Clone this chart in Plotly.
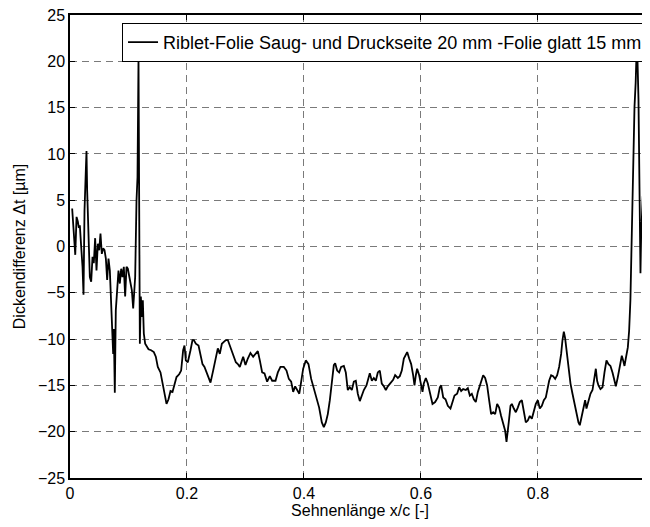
import plotly.graph_objects as go

# x/c positions and thickness differences (µm)
x_vals = [
    0.0037, 0.0054, 0.0090, 0.0112, 0.0134, 0.0151, 0.0168, 0.0191, 0.0214, 0.0231,
    0.0248, 0.0271, 0.0282, 0.0293, 0.0316, 0.0339, 0.0362, 0.0385, 0.0407, 0.0430,
    0.0453, 0.0476, 0.0499, 0.0521, 0.0544, 0.0567, 0.0590, 0.0613, 0.0635, 0.0658,
    0.0681, 0.0704, 0.0721, 0.0738, 0.0749, 0.0766, 0.0783, 0.0806, 0.0829, 0.0852,
    0.0875, 0.0897, 0.0920, 0.0943, 0.0966, 0.0989, 0.1011, 0.1034, 0.1057, 0.1080,
    0.1097, 0.1114, 0.1137, 0.1154, 0.1171, 0.1182, 0.1194, 0.1211, 0.1228, 0.1245,
    0.1262, 0.1285, 0.1308, 0.1342, 0.1387, 0.1433, 0.1467, 0.1501, 0.1547, 0.1581,
    0.1615, 0.1650, 0.1684, 0.1718, 0.1752, 0.1786, 0.1821, 0.1866, 0.1900, 0.1934,
    0.1957, 0.1980, 0.2014, 0.2060, 0.2094, 0.2117, 0.2151, 0.2197, 0.2231, 0.2265,
    0.2299, 0.2345, 0.2402, 0.2447, 0.2493, 0.2527, 0.2561, 0.2596, 0.2630, 0.2664,
    0.2698, 0.2732, 0.2766, 0.2801, 0.2835, 0.2869, 0.2903,
    0.2960, 0.3000, 0.3040, 0.3085, 0.3131, 0.3171, 0.3211, 0.3245, 0.3285, 0.3325,
    0.3370, 0.3416, 0.3456, 0.3513, 0.3553, 0.3598, 0.3655, 0.3701, 0.3741, 0.3781,
    0.3815, 0.3849, 0.3883, 0.3920, 0.3952, 0.3986, 0.4031, 0.4077, 0.4123, 0.4168,
    0.4214, 0.4259, 0.4305, 0.4339, 0.4373, 0.4407, 0.4442, 0.4476, 0.4510, 0.4533,
    0.4567, 0.4601, 0.4635, 0.4681, 0.4715, 0.4749, 0.4783, 0.4818, 0.4852, 0.4886,
    0.4920, 0.4954, 0.4989, 0.5023, 0.5068, 0.5103, 0.5125, 0.5160, 0.5194, 0.5228,
    0.5262, 0.5296, 0.5330, 0.5365, 0.5399, 0.5433, 0.5479, 0.5524, 0.5558, 0.5604,
    0.5638, 0.5672, 0.5707, 0.5741, 0.5764, 0.5798, 0.5832, 0.5866, 0.5889, 0.5912,
    0.5934, 0.5969, 0.6003, 0.6026, 0.6048, 0.6083, 0.6117, 0.6151, 0.6197, 0.6242,
    0.6288, 0.6322, 0.6345,
    0.6380, 0.6419, 0.6459, 0.6504, 0.6539, 0.6573, 0.6618, 0.6653, 0.6687, 0.6721,
    0.6767, 0.6801, 0.6835, 0.6869, 0.6903, 0.6937, 0.6972, 0.7017, 0.7063, 0.7097,
    0.7131, 0.7165, 0.7199, 0.7234, 0.7268, 0.7302, 0.7336, 0.7370, 0.7405, 0.7439,
    0.7462, 0.7484, 0.7507, 0.7530, 0.7553, 0.7587, 0.7621, 0.7655, 0.7689, 0.7724,
    0.7758, 0.7792, 0.7826, 0.7860, 0.7895, 0.7929, 0.7963, 0.7997, 0.8031, 0.8066,
    0.8100, 0.8134, 0.8157, 0.8191, 0.8225, 0.8259, 0.8294, 0.8328, 0.8362, 0.8396,
    0.8419, 0.8442, 0.8464, 0.8487, 0.8521, 0.8556, 0.8590, 0.8624, 0.8658, 0.8692,
    0.8715, 0.8738, 0.8772, 0.8806, 0.8829, 0.8863, 0.8897, 0.8932, 0.8966, 0.8989,
    0.9011, 0.9034, 0.9068, 0.9103, 0.9137, 0.9171, 0.9205, 0.9239, 0.9274, 0.9308,
    0.9331, 0.9365, 0.9399, 0.9433, 0.9456, 0.9479, 0.9501, 0.9536, 0.9558,
    0.9580, 0.9604, 0.9627, 0.9650, 0.9670, 0.9680, 0.9692, 0.9718, 0.9730, 0.9741,
    0.9752, 0.9764, 0.9775, 0.9792, 0.9809, 0.9826, 0.9843, 0.9860, 0.9877, 0.9895,
    0.9912,
]

dt_vals = [
    4.1, 2.1, -0.9, 3.2, 2.7, 2.0, 2.3, 0.0, -2.2, -5.2,
    3.9, 8.3, 10.3, 6.1, -0.4, -3.3, -3.8, -1.1, -1.8, 0.9,
    -2.6, 0.3, -0.4, 1.4, -0.8, -0.2, -0.4, -1.3, -3.6, -1.3,
    -2.6, -6.9, -9.1, -11.6, -8.9, -15.8, -6.9, -4.7, -2.6, -4.0,
    -2.4, -3.3, -2.2, -5.4, -2.2, -2.4, -3.3, -4.0, -4.7, -6.7,
    -4.7, -3.3, 5.0, 7.5, 20.3, -0.4, -10.5, -5.4, -7.6, -5.8,
    -9.4, -10.5, -10.8, -11.1, -11.2, -11.4, -11.9, -13.0, -13.6, -14.8,
    -15.9, -17.0, -16.5, -15.6, -15.7, -14.8, -14.1, -13.8, -13.4, -11.2,
    -10.7, -12.3, -12.5, -11.2, -10.1, -10.1, -10.5, -10.7, -11.9, -12.7,
    -13.0, -13.7, -14.7, -13.4, -12.1, -11.0, -11.6, -10.5, -10.3, -10.1,
    -10.1, -10.7, -11.4, -12.1, -12.5, -12.7, -13.0,
    -11.9, -12.8, -12.1, -11.5, -11.9, -11.6, -11.3, -12.3, -13.6, -13.7,
    -14.6, -14.0, -14.5, -14.5, -13.6, -13.0, -13.0, -13.4, -14.3, -14.6,
    -15.7, -15.1, -15.5, -15.9, -14.6, -13.2, -12.3, -12.7, -14.3, -15.4,
    -16.3, -17.4, -19.0, -19.5, -19.0, -18.1, -16.6, -14.5, -12.8, -12.6,
    -13.4, -13.6, -13.0, -12.9, -13.6, -15.5, -15.2, -15.5, -14.6, -14.5,
    -15.9, -16.7, -16.1, -15.5, -15.0, -14.3, -13.7, -14.5, -14.2, -14.5,
    -13.6, -13.4, -14.8, -15.1, -15.5, -15.1, -14.8, -14.4, -13.9, -14.2,
    -14.0, -13.4, -12.1, -11.6, -11.4, -12.1, -12.7, -13.9, -15.0, -13.9,
    -13.2, -13.9, -15.2, -15.7, -14.8, -14.2, -14.8, -15.9, -17.0, -16.8,
    -16.3, -15.2, -15.0,
    -16.3, -16.5, -17.2, -17.5, -16.8, -16.1, -15.9, -15.2, -15.6, -15.4,
    -15.5, -15.3, -16.1, -15.9, -16.5, -16.8, -15.7, -14.8, -13.9, -14.2,
    -15.0, -16.6, -18.1, -17.9, -18.1, -17.0, -17.4, -18.3, -19.2, -19.9,
    -21.1, -20.1, -18.6, -17.2, -17.0, -17.5, -17.9, -17.4, -16.8, -16.6,
    -17.7, -19.0, -18.8, -18.3, -18.6, -17.7, -17.0, -16.6, -17.5, -17.2,
    -16.6, -16.3, -15.5, -14.5, -13.9, -14.0, -14.3, -13.9, -13.0, -11.6,
    -10.1, -9.2, -9.9, -11.2, -13.2, -14.8, -15.9, -17.0, -18.1, -19.0,
    -19.3, -18.6, -17.4, -16.6, -17.5, -16.6, -15.9, -15.5, -14.3, -13.2,
    -14.5, -15.0, -15.4, -15.2, -13.6, -12.3, -12.7, -12.9, -13.6, -14.5,
    -15.1, -14.1, -13.0, -11.8, -12.3, -12.9, -12.1, -10.9, -9.1,
    -5.8, 1.4, 8.6, 15.1, 17.7, 20.9, 22.5, 15.9, 8.6, 1.4,
    -2.9, 1.4, 3.6, 5.4, 6.5, 5.0, 5.7, 3.6, 1.1, 1.8,
    1.1,
]

x_ticks = [0, 0.2, 0.4, 0.6, 0.8]
x_tick_labels = ["0", "0.2", "0.4", "0.6", "0.8"]
y_ticks = [-25, -20, -15, -10, -5, 0, 5, 10, 15, 20, 25]
series_name = "Riblet-Folie Saug- und Druckseite 20 mm -Folie glatt 15 mm"

FONT = "Liberation Sans, Arial, Helvetica, sans-serif"

fig = go.Figure()
fig.add_trace(go.Scatter(
    x=x_vals, y=dt_vals, mode="lines", name=series_name,
    line=dict(color="black", width=1.8),
))

axis_common = dict(
    automargin=False,
    ticklabeloverflow="allow",
    showline=True, linecolor="black", linewidth=1.5,
    ticks="inside", ticklen=5, tickcolor="black", tickwidth=1,
    showgrid=True, gridcolor="#7a7a7a", gridwidth=1, griddash="7px,5px",
    zeroline=False,
    tickfont=dict(family=FONT, size=16, color="black"),
    title_font=dict(family=FONT, size=16, color="black"),
)

# the page body has an 8px margin, so the figure is sized to sit inside the window
fig.update_layout(
    width=642, height=519,
    margin=dict(l=62, r=0, t=7, b=49, autoexpand=False),
    paper_bgcolor="white", plot_bgcolor="white",
    font=dict(family=FONT, size=16, color="black"),
    showlegend=True,
    legend=dict(
        x=0.9966, y=0.983, xanchor="right", yanchor="top",
        bgcolor="white", bordercolor="black", borderwidth=1,
        font=dict(family=FONT, size=18, color="black"),
        tracegroupgap=0, itemwidth=30,
    ),
    xaxis=dict(
        range=[0, 0.9915], tickvals=x_ticks, ticktext=x_tick_labels,
        mirror="ticks",
        title=dict(text="Sehnenlänge x/c [-]", standoff=2),
        **axis_common,
    ),
    yaxis=dict(
        range=[-25, 25], tickvals=y_ticks,
        mirror=False,
        title=dict(text="Dickendifferenz \u0394t [\u00b5m]", standoff=8),
        **axis_common,
    ),
)

fig.write_html("out.html")
